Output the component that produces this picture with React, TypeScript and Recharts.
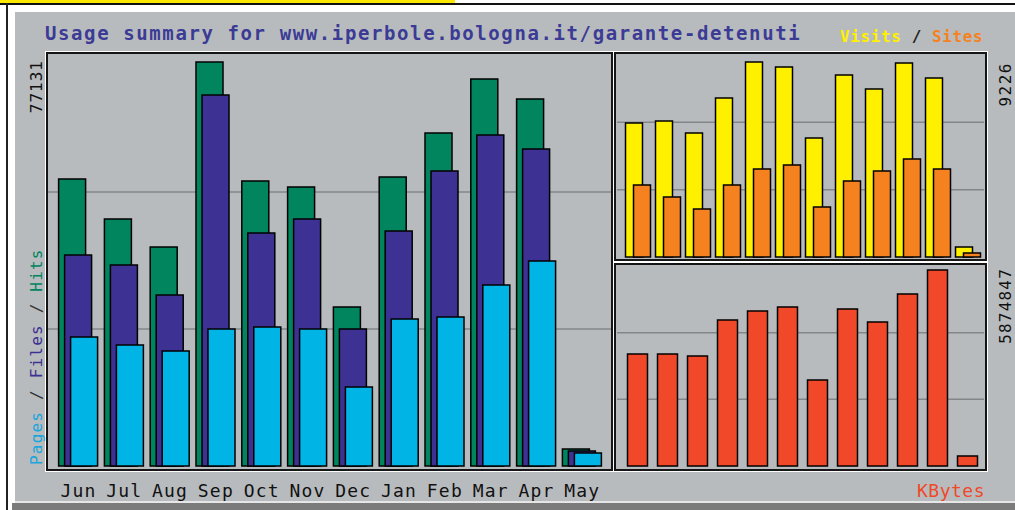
import React from 'react';
import { BarChart, Bar, XAxis, YAxis, CartesianGrid } from 'recharts';

const months = ['Jun', 'Jul', 'Aug', 'Sep', 'Oct', 'Nov', 'Dec', 'Jan', 'Feb', 'Mar', 'Apr', 'May'];
const hits = [54790, 47160, 41810, 77131, 54410, 53270, 30360, 55180, 63580, 73890, 70070, 3250];
const files = [40280, 38380, 32650, 70830, 44480, 47160, 26160, 44870, 56320, 63190, 60520, 2860];
const pages = [24630, 23100, 21960, 26160, 26540, 26160, 15080, 28070, 28450, 34560, 39140, 2480];
const visits = [6340, 6430, 5870, 7520, 9226, 8990, 5630, 8610, 7950, 9180, 8470, 470];
const sites = [3410, 2840, 2270, 3410, 4160, 4350, 2370, 3600, 4070, 4640, 4160, 190];
const kbytes = [3357091, 3357091, 3297140, 4376204, 4646000, 4766000, 2578000, 4706000, 4316000, 5155000, 5874847, 299700];

const hitsLabel = '77131';
const visitsLabel = '9226';
const kbytesLabel = '5874847';
const title = 'Usage summary for www.iperbole.bologna.it/garante-detenuti';

const leftMax = 78470;
const visitsMax = 9557;
const kbMax = 5994742;

const leftData = months.map((m, i) => ({ month: m, hits: hits[i], files: files[i], pages: pages[i] }));
const topData = months.map((m, i) => ({ month: m, visits: visits[i], sites: sites[i] }));
const kbData = months.map((m, i) => ({ month: m, kbytes: kbytes[i] }));

const C = {
  panel: '#b8bbbd',
  grid: '#84878a',
  hits: '#00855f',
  files: '#3d3193',
  pages: '#00b4e6',
  visits: '#fff000',
  sites: '#f5821f',
  kbytes: '#f04828',
  title: '#3b3b96',
};

const MONO = '"DejaVu Sans Mono", "Liberation Mono", monospace';

const MonthTick = (props: any) => {
  const { x, payload } = props;
  return (
    <text x={x} y={497} textAnchor="middle" fontFamily={MONO} fontSize={18} letterSpacing={1.2} fill="#111">
      {payload.value}
    </text>
  );
};

const EmptyTick = () => <g />;

const abs: React.CSSProperties = { position: 'absolute', left: 0, top: 0 };

const frame = (left: number, top: number, width: number, height: number): React.CSSProperties => ({
  position: 'absolute',
  left,
  top,
  width,
  height,
  boxSizing: 'border-box',
  border: '2px solid #151515',
  outline: '1px solid #ffffff',
});

export default function App() {
  return (
    <div style={{ position: 'fixed', left: 0, top: 0, width: 1015, height: 510, background: '#ffffff', overflow: 'hidden' }}>
      <div style={{ position: 'absolute', left: 0, top: 0, width: 455, height: 3, background: '#ffe800' }} />
      <div style={{ position: 'absolute', left: 0, top: 3, width: 1015, height: 1.5, background: '#111' }} />
      <div style={{ position: 'absolute', left: 6, top: 3, width: 1.5, height: 507, background: '#222' }} />
      <div style={{ position: 'absolute', left: 15, top: 12, width: 1000, height: 489, background: C.panel }} />
      <div style={{ position: 'absolute', left: 15, top: 501, width: 1000, height: 2, background: '#e6e6e6' }} />
      <div style={{ position: 'absolute', left: 12, top: 503, width: 1003, height: 7, background: '#7b7b7b' }} />

      <div style={abs}>
        <BarChart width={1015} height={510} data={leftData} margin={{ top: 55, left: 47, right: 404, bottom: 14 }} barSize={27} barGap={-21}>
          <CartesianGrid vertical={false} stroke={C.grid} strokeWidth={1.5} syncWithTicks />
          <XAxis dataKey="month" height={30} padding={{ left: 7.6, right: 5.8 }} axisLine={false} tickLine={false} tick={<MonthTick />} interval={0} />
          <YAxis width={1} domain={[0, leftMax]} ticks={[leftMax / 3, (2 * leftMax) / 3]} interval={0} tick={<EmptyTick />} axisLine={false} tickLine={false} />
          <Bar dataKey="hits" fill={C.hits} stroke="#000" strokeWidth={1.5} isAnimationActive={false} />
          <Bar dataKey="files" fill={C.files} stroke="#000" strokeWidth={1.5} isAnimationActive={false} />
          <Bar dataKey="pages" fill={C.pages} stroke="#000" strokeWidth={1.5} isAnimationActive={false} />
        </BarChart>
      </div>

      <div style={abs}>
        <BarChart width={1015} height={510} data={topData} margin={{ top: 55, left: 616, right: 31, bottom: 253 }} barSize={17} barGap={-9}>
          <CartesianGrid vertical={false} stroke={C.grid} strokeWidth={1.5} syncWithTicks />
          <XAxis dataKey="month" hide padding={{ left: 5.5, right: 1.5 }} />
          <YAxis width={1} domain={[0, visitsMax]} ticks={[visitsMax / 3, (2 * visitsMax) / 3]} interval={0} tick={<EmptyTick />} axisLine={false} tickLine={false} />
          <Bar dataKey="visits" fill={C.visits} stroke="#000" strokeWidth={1.5} isAnimationActive={false} />
          <Bar dataKey="sites" fill={C.sites} stroke="#000" strokeWidth={1.5} isAnimationActive={false} />
        </BarChart>
      </div>

      <div style={abs}>
        <BarChart width={1015} height={510} data={kbData} margin={{ top: 266, left: 616, right: 31, bottom: 44 }} barSize={20}>
          <CartesianGrid vertical={false} stroke={C.grid} strokeWidth={1.5} syncWithTicks />
          <XAxis dataKey="month" hide padding={{ left: 5.5, right: 1.5 }} />
          <YAxis width={1} domain={[0, kbMax]} ticks={[kbMax / 3, (2 * kbMax) / 3]} interval={0} tick={<EmptyTick />} axisLine={false} tickLine={false} />
          <Bar dataKey="kbytes" fill={C.kbytes} stroke="#000" strokeWidth={1.5} isAnimationActive={false} />
        </BarChart>
      </div>

      <div style={frame(46, 52, 567, 419)} />
      <div style={frame(614, 52, 373, 209)} />
      <div style={frame(614, 263, 373, 208)} />

      <svg width={1015} height={510} style={{ position: 'absolute', left: 0, top: 0, pointerEvents: 'none' }}>
        <text x={45} y={40} fontFamily={MONO} fontSize={19} fontWeight="bold" letterSpacing={1.6} fill={C.title}>{title}</text>
        <text x={840} y={42} fontFamily={MONO} fontSize={16} fontWeight="bold" letterSpacing={0.6}>
          <tspan fill={C.visits}>Visits</tspan>
          <tspan fill="#222"> / </tspan>
          <tspan fill={C.sites}>Sites</tspan>
        </text>
        <text transform="translate(42,465) rotate(-90)" fontFamily={MONO} fontSize={16} letterSpacing={1.2}>
          <tspan fill="#1aa5dc">Pages</tspan>
          <tspan fill="#333"> / </tspan>
          <tspan fill={C.files}>Files</tspan>
          <tspan fill="#333"> / </tspan>
          <tspan fill={C.hits}>Hits</tspan>
        </text>
        <text transform="translate(42,60) rotate(-90)" textAnchor="end" fontFamily={MONO} fontSize={16} letterSpacing={1} fill="#111">{hitsLabel}</text>
        <text transform="translate(1011,62) rotate(-90)" textAnchor="end" fontFamily={MONO} fontSize={16} letterSpacing={1.5} fill="#111">{visitsLabel}</text>
        <text transform="translate(1011,268) rotate(-90)" textAnchor="end" fontFamily={MONO} fontSize={16} letterSpacing={1.2} fill="#111">{kbytesLabel}</text>
        <text x={985} y={497} textAnchor="end" fontFamily={MONO} fontSize={18} letterSpacing={0.5} fill={C.kbytes}>KBytes</text>
      </svg>
    </div>
  );
}
